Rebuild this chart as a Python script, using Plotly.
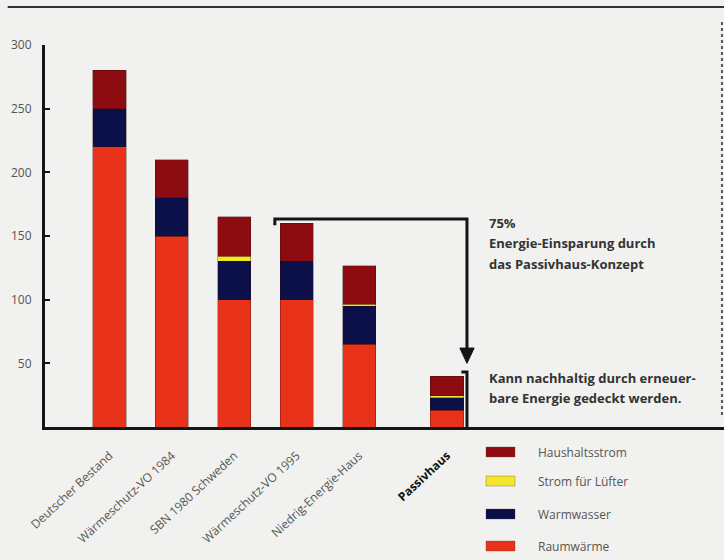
import plotly.graph_objects as go

# Heizwärme- und Strombedarf verschiedener Baustandards (kWh/m²a)
categories = ["Deutscher Bestand", "Wärmeschutz-VO 1984", "SBN 1980 Schweden",
              "Wärmeschutz-VO 1995", "Niedrig-Energie-Haus", "Passivhaus"]
raumwaerme = [220, 150, 100, 100, 65, 13]
warmwasser = [30, 30, 30, 30, 30, 10]
luefter = [0, 0, 4, 0, 1.5, 1.5]
haushaltsstrom = [30, 30, 31, 30, 30, 15.5]
y_ticks = [50, 100, 150, 200, 250, 300]

series = [
    ("Raumwärme", raumwaerme, "#e8321a"),
    ("Warmwasser", warmwasser, "#0c1048"),
    ("Strom für Lüfter", luefter, "#f3e62c"),
    ("Haushaltsstrom", haushaltsstrom, "#8c0c12"),
]

# horizontal slot of each bar; the Passivhaus bar sits apart from the rest
x_pos = [0, 1, 2, 3, 4, 5.41]

tick_text = [c for c in categories[:-1]] + ["<b><span style='color:#111'>Passivhaus</span></b>"]

fig = go.Figure()
for name, vals, col in series:
    fig.add_trace(go.Bar(
        x=x_pos, y=vals, name=name, width=0.53,
        marker=dict(color=col, line=dict(color="rgba(50,10,10,0.55)", width=0.6)),
        showlegend=False,
    ))

ink = "#151515"
shapes = []
# bracket with arrow from the 1995 standard down to the Passivhaus
top_y = 163.4
xr = 5.73
shapes.append(dict(type="path", xref="x", yref="y",
                   path=f"M 2.65 158.5 L 2.65 {top_y} L {xr} {top_y} L {xr} 60",
                   line=dict(color=ink, width=3)))
shapes.append(dict(type="path", xref="x", yref="y",
                   path=f"M {xr-0.115} 62 L {xr+0.115} 62 L {xr} 50 Z",
                   fillcolor=ink, line=dict(color=ink, width=1)))
# small bracket beside the Passivhaus bar
shapes.append(dict(type="path", xref="x", yref="y",
                   path=f"M {xr-0.09} 43.2 L {xr} 43.2 L {xr} 0",
                   line=dict(color=ink, width=3)))
# dotted rule on the right
shapes.append(dict(type="line", xref="paper", yref="paper",
                   x0=0.997, x1=0.997, y0=1.06, y1=0.03,
                   line=dict(color="#555", width=2, dash="dot")))
# rule at the very top
shapes.append(dict(type="line", xref="paper", yref="paper",
                   x0=-0.055, x1=1.0, y0=1.0995, y1=1.0995,
                   line=dict(color="#333", width=2)))

annotations = []
txt_col = "#333"
for text, py in [("75%", 223), ("Energie-Einsparung durch", 243),
                 ("das Passivhaus-Konzept", 264),
                 ("Kann nachhaltig durch erneuer-", 378),
                 ("bare Energie gedeckt werden.", 398)]:
    annotations.append(dict(
        text=f"<b>{text}</b>", xref="paper", yref="paper",
        x=(487 - 45) / 679, y=(427 - py) / 382, xanchor="left", yanchor="middle",
        showarrow=False, font=dict(family="Open Sans", size=13, color=txt_col)))

# legend drawn as coloured boxes with labels
legend_rows = [("Haushaltsstrom", "#8c0c12", 452), ("Strom für Lüfter", "#f3e62c", 481),
               ("Warmwasser", "#0c1048", 514), ("Raumwärme", "#e8321a", 546)]
for name, col, py in legend_rows:
    x0 = (486 - 45) / 679
    x1 = (515 - 45) / 679
    shapes.append(dict(type="rect", xref="paper", yref="paper",
                       x0=x0, x1=x1, y0=(427 - py - 5) / 382, y1=(427 - py + 5) / 382,
                       fillcolor=col, line=dict(color="rgba(80,60,40,0.5)", width=0.6)))
    annotations.append(dict(
        text=name, xref="paper", yref="paper",
        x=(536 - 45) / 679, y=(427 - py) / 382, xanchor="left", yanchor="middle",
        showarrow=False, font=dict(family="Open Sans", size=12, color="#555")))

fig.update_layout(
    barmode="stack",
    width=724, height=560,
    margin=dict(l=45, r=0, t=45, b=133),
    paper_bgcolor="#f1f1ef", plot_bgcolor="#f1f1ef",
    font=dict(family="Open Sans", size=12, color="#555"),
    shapes=shapes, annotations=annotations,
    xaxis=dict(range=[-1.034, 9.85], tickmode="array", tickvals=x_pos, ticktext=tick_text,
               tickangle=-43, showgrid=False, zeroline=False, showline=True,
               linecolor=ink, linewidth=3, ticks="", ticklabelstandoff=14,
               tickfont=dict(size=12, color="#555")),
    yaxis=dict(range=[0, 300], tickmode="array", tickvals=y_ticks,
               showgrid=False, zeroline=False, showline=True, linecolor=ink, linewidth=3,
               ticks="inside", ticklen=5, tickwidth=2, tickcolor=ink,
               ticklabelstandoff=8, tickfont=dict(size=12, color="#555")),
)

fig.write_html("out.html")
